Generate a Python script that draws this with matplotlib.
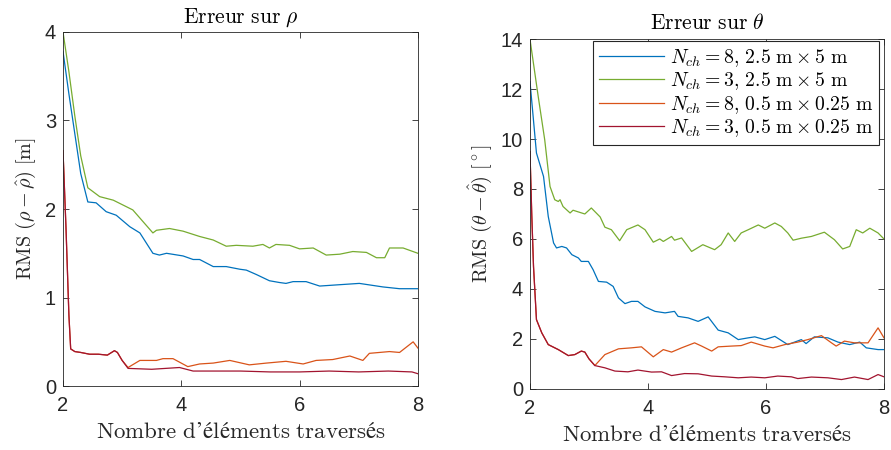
import matplotlib
matplotlib.use('Agg')
import matplotlib.pyplot as plt

plt.rcParams['mathtext.fontset'] = 'cm'
plt.rcParams['font.family'] = 'Liberation Sans'

# --- Erreur sur rho ---
rho_x_blue = [2.0, 2.1, 2.2, 2.3, 2.42, 2.56, 2.73, 2.9, 3.13, 3.3, 3.52, 3.63, 3.75,
              4.03, 4.2, 4.31, 4.54, 4.76, 4.99, 5.1, 5.27, 5.49, 5.66, 5.77, 5.89,
              6.11, 6.34, 6.56, 7.01, 7.41, 7.69, 8.0]
rho_y_blue = [3.78, 3.3, 2.85, 2.4, 2.08, 2.07, 1.97, 1.93, 1.80, 1.73, 1.50, 1.48, 1.50,
              1.47, 1.43, 1.43, 1.35, 1.35, 1.32, 1.31, 1.26, 1.19, 1.17, 1.16, 1.18,
              1.18, 1.13, 1.14, 1.16, 1.12, 1.10, 1.10]

rho_x_green = [2.0, 2.1, 2.2, 2.3, 2.42, 2.62, 2.85, 3.18, 3.52, 3.58, 3.8, 4.03, 4.31,
               4.54, 4.76, 4.93, 5.21, 5.38, 5.49, 5.6, 5.83, 6.0, 6.23, 6.45, 6.68,
               6.9, 7.13, 7.3, 7.44, 7.52, 7.75, 8.0]
rho_y_green = [4.0, 3.55, 3.05, 2.6, 2.24, 2.14, 2.10, 1.99, 1.73, 1.76, 1.78, 1.75, 1.69,
               1.65, 1.58, 1.59, 1.58, 1.60, 1.56, 1.60, 1.59, 1.55, 1.56, 1.48, 1.49,
               1.52, 1.51, 1.45, 1.45, 1.56, 1.56, 1.50]

rho_x_orange = [2.0, 2.05, 2.1, 2.13, 2.2, 2.3, 2.45, 2.6, 2.75, 2.87, 2.92, 3.0, 3.1,
                3.3, 3.58, 3.69, 3.86, 4.11, 4.31, 4.54, 4.82, 5.15, 5.44, 5.77, 6.06,
                6.28, 6.56, 6.85, 7.07, 7.18, 7.35, 7.52, 7.69, 7.92, 8.0]
rho_y_orange = [2.66, 1.8, 0.8, 0.42, 0.39, 0.38, 0.36, 0.36, 0.35, 0.40, 0.38, 0.29, 0.21,
                0.29, 0.29, 0.31, 0.31, 0.22, 0.25, 0.26, 0.29, 0.24, 0.26, 0.28, 0.25,
                0.29, 0.30, 0.34, 0.29, 0.37, 0.38, 0.39, 0.38, 0.50, 0.43]

rho_x_red = [2.0, 2.05, 2.1, 2.13, 2.2, 2.3, 2.45, 2.6, 2.75, 2.87, 2.92, 3.0, 3.1,
             3.5, 3.97, 4.2, 4.6, 5.0, 5.5, 6.0, 6.5, 7.0, 7.5, 7.9, 8.0]
rho_y_red = [2.66, 1.8, 0.8, 0.42, 0.39, 0.38, 0.36, 0.36, 0.35, 0.40, 0.38, 0.29, 0.20,
             0.19, 0.21, 0.17, 0.17, 0.17, 0.16, 0.16, 0.17, 0.16, 0.17, 0.16, 0.14]

# --- Erreur sur theta ---
th_x_blue = [2.0, 2.11, 2.23, 2.31, 2.4, 2.45, 2.54, 2.62, 2.71, 2.82, 2.87, 2.99, 3.07,
             3.16, 3.3, 3.41, 3.5, 3.61, 3.72, 3.83, 3.95, 4.12, 4.29, 4.45, 4.51, 4.68,
             4.85, 5.02, 5.19, 5.36, 5.53, 5.7, 5.81, 5.98, 6.15, 6.37, 6.6, 6.68, 6.82,
             7.05, 7.22, 7.42, 7.59, 7.7, 7.9, 8.0]
th_y_blue = [12.3, 9.44, 8.5, 6.9, 5.84, 5.64, 5.7, 5.64, 5.37, 5.24, 5.1, 5.1, 4.77,
             4.3, 4.27, 4.1, 3.64, 3.41, 3.5, 3.5, 3.28, 3.1, 3.04, 3.1, 2.9, 2.84,
             2.7, 2.88, 2.35, 2.24, 1.97, 2.04, 2.08, 1.97, 2.1, 1.77, 1.97, 1.81, 2.08,
             2.04, 1.87, 1.77, 1.87, 1.64, 1.57, 1.57]

th_x_green = [2.0, 2.14, 2.25, 2.34, 2.42, 2.48, 2.51, 2.56, 2.68, 2.73, 2.93, 3.04, 3.19,
              3.27, 3.38, 3.52, 3.64, 3.83, 3.95, 4.09, 4.2, 4.26, 4.4, 4.45, 4.57, 4.74,
              4.93, 5.13, 5.24, 5.36, 5.47, 5.58, 5.7, 5.87, 5.98, 6.15, 6.26, 6.37, 6.46,
              6.6, 6.77, 6.99, 7.16, 7.3, 7.42, 7.53, 7.64, 7.76, 7.9, 8.0]
th_y_green = [14.0, 11.7, 9.97, 8.1, 7.57, 7.5, 7.57, 7.3, 7.04, 7.15, 7.0, 7.24, 6.88,
              6.47, 6.37, 5.93, 6.37, 6.56, 6.37, 5.87, 6.0, 5.9, 6.1, 5.95, 6.04, 5.5,
              5.77, 5.57, 5.77, 6.24, 5.9, 6.24, 6.37, 6.56, 6.43, 6.64, 6.5, 6.24, 5.95,
              6.03, 6.1, 6.27, 5.97, 5.6, 5.7, 6.37, 6.24, 6.43, 6.24, 6.0]

th_x_orange = [2.0, 2.03, 2.06, 2.11, 2.2, 2.31, 2.48, 2.65, 2.76, 2.87, 2.93, 3.0, 3.1,
               3.27, 3.5, 3.72, 3.89, 4.09, 4.26, 4.4, 4.57, 4.79, 4.91, 5.08, 5.19, 5.41,
               5.58, 5.75, 5.98, 6.12, 6.32, 6.54, 6.71, 6.94, 7.11, 7.19, 7.33, 7.5, 7.73,
               7.9, 8.0]
th_y_orange = [9.5, 7.0, 4.9, 2.77, 2.24, 1.77, 1.57, 1.33, 1.37, 1.51, 1.47, 1.2, 0.93,
               1.37, 1.6, 1.64, 1.68, 1.28, 1.57, 1.47, 1.64, 1.84, 1.71, 1.51, 1.68, 1.71,
               1.73, 1.87, 1.71, 1.64, 1.77, 1.87, 1.97, 2.13, 1.84, 1.71, 1.91, 1.84, 1.84,
               2.44, 2.04]

th_x_red = [2.0, 2.03, 2.06, 2.11, 2.2, 2.31, 2.48, 2.65, 2.76, 2.87, 2.93, 3.0, 3.1,
            3.27, 3.44, 3.66, 3.83, 4.06, 4.23, 4.4, 4.62, 4.85, 5.08, 5.3, 5.53, 5.75,
            5.98, 6.2, 6.43, 6.54, 6.77, 7.05, 7.28, 7.5, 7.73, 7.9, 8.0]
th_y_red = [9.5, 7.0, 4.9, 2.77, 2.24, 1.77, 1.57, 1.33, 1.37, 1.51, 1.47, 1.2, 0.93,
            0.84, 0.71, 0.68, 0.75, 0.67, 0.68, 0.53, 0.61, 0.6, 0.51, 0.48, 0.44, 0.47,
            0.44, 0.51, 0.48, 0.41, 0.47, 0.44, 0.37, 0.47, 0.37, 0.57, 0.48]

labels = [r'$N_{ch} = 8,\, 2.5\ \mathrm{m} \times 5\ \mathrm{m}$',
          r'$N_{ch} = 3,\, 2.5\ \mathrm{m} \times 5\ \mathrm{m}$',
          r'$N_{ch} = 8,\, 0.5\ \mathrm{m} \times 0.25\ \mathrm{m}$',
          r'$N_{ch} = 3,\, 0.5\ \mathrm{m} \times 0.25\ \mathrm{m}$']
colors = ['#0072BD', '#77AC30', '#D95319', '#A2142F']
gris = '#262626'


def style_axe(ax, ylim, yticks):
    ax.set_xlim(2, 8)
    ax.set_ylim(*ylim)
    ax.set_xticks([2, 4, 6, 8])
    ax.set_yticks(yticks)
    ax.tick_params(direction='in', top=True, right=True, length=4, width=0.6,
                   labelsize=14.5, colors=gris)
    ax.tick_params(axis='x', pad=7)
    ax.tick_params(axis='y', pad=5)
    for s in ax.spines.values():
        s.set_linewidth(0.6)
        s.set_color(gris)
    ax.set_xlabel(r'$\mathrm{Nombre\ d’éléments\ traversés}$', fontsize=16.5,
                  color=gris, labelpad=4)


fig = plt.figure(figsize=(8.91, 4.5), dpi=100)

ax1 = fig.add_axes([0.0707, 0.142, 0.3983, 0.787])
series1 = [(rho_x_blue, rho_y_blue), (rho_x_green, rho_y_green),
           (rho_x_orange, rho_y_orange), (rho_x_red, rho_y_red)]
for (xs, ys), c in zip(series1, colors):
    ax1.plot(xs, ys, color=c, lw=0.9)
style_axe(ax1, (0, 4), [0, 1, 2, 3, 4])
ax1.set_title(r'$\mathrm{Erreur\ sur}\ \rho$', fontsize=15.5, pad=7)
ax1.set_ylabel(r'$\mathrm{RMS}\ (\rho - \hat{\rho})\ [\mathrm{m}]$', fontsize=14.5,
               color=gris, labelpad=5)

ax2 = fig.add_axes([0.5948, 0.136, 0.3973, 0.777])
series2 = [(th_x_blue, th_y_blue), (th_x_green, th_y_green),
           (th_x_orange, th_y_orange), (th_x_red, th_y_red)]
for (xs, ys), c, lab in zip(series2, colors, labels):
    ax2.plot(xs, ys, color=c, lw=0.9, label=lab)
style_axe(ax2, (0, 14), [0, 2, 4, 6, 8, 10, 12, 14])
ax2.set_title(r'$\mathrm{Erreur\ sur}\ \theta$', fontsize=15.5, pad=7)
ax2.set_ylabel(r'$\mathrm{RMS}\ (\theta - \hat{\theta})\ [^\circ]$', fontsize=14.5,
               color=gris, labelpad=5)

leg = ax2.legend(loc='upper right', bbox_to_anchor=(0.986, 0.995), fontsize=14.2,
                 frameon=True, fancybox=False, edgecolor=gris, framealpha=1,
                 handlelength=3.3, handletextpad=0.3, labelspacing=0.08,
                 borderpad=0.3, borderaxespad=0.0)
leg.get_frame().set_linewidth(0.8)

fig.savefig('out.png', dpi=100, facecolor='white')
